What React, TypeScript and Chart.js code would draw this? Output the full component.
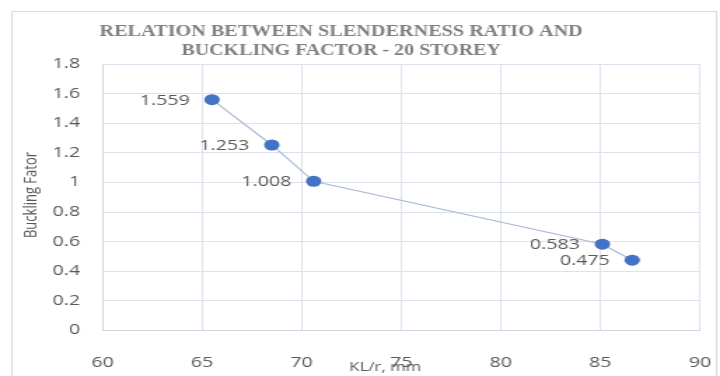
import React, { useEffect, useRef } from "react";
import { Chart, registerables } from "chart.js";

Chart.register(...registerables);

// Slenderness ratio (KL/r) against buckling factor, 20-storey frame
const slendernessRatio = [65.5, 68.5, 70.6, 85.1, 86.6];
const bucklingFactor = [1.559, 1.253, 1.008, 0.583, 0.475];
const xTickValues = [60, 65, 70, 75, 80, 85, 90];
const yTickValues = [0, 0.2, 0.4, 0.6, 0.8, 1, 1.2, 1.4, 1.6, 1.8];
const titleLines = [
  "RELATION BETWEEN SLENDERNESS RATIO AND",
  "BUCKLING FACTOR - 20 STOREY",
];
const xAxisTitle = "KL/r, mm";
const yAxisTitle = "Buckling Fator";

// The chart is laid out on a narrower canvas and widened with CSS.
const LOGICAL_W = 514;
const H = 376;
const STRETCH = 720 / LOGICAL_W;

const LABEL_FONT = '"Open Sans", "Liberation Sans", sans-serif';
const TEXT_GREY = "#595959";

const framePlugin = {
  id: "frame",
  beforeDraw(chart: any) {
    const ctx = chart.ctx;
    ctx.save();
    ctx.fillStyle = "#ffffff";
    ctx.fillRect(0, 0, chart.width, chart.height);
    ctx.strokeStyle = "#d9d9d9";
    ctx.lineWidth = 1;
    ctx.strokeRect(8.6, 11.5, 503, H + 20);
    ctx.restore();
  },
};

const titlePlugin = {
  id: "twoLineTitle",
  afterDraw(chart: any) {
    const ctx = chart.ctx;
    const widths = [345, 228];
    const ys = [32, 50.5];
    ctx.save();
    ctx.font = 'bold 16px "Liberation Serif", "Times New Roman", serif';
    ctx.fillStyle = "#808080";
    ctx.textAlign = "center";
    ctx.textBaseline = "middle";
    titleLines.forEach((line, i) => {
      const natural = ctx.measureText(line).width;
      const sx = widths[i] / natural;
      ctx.save();
      ctx.translate(243.5, ys[i]);
      ctx.scale(sx, 1);
      ctx.fillText(line, 0, 0);
      ctx.restore();
    });
    ctx.restore();
  },
};

const axisTitlesPlugin = {
  id: "axisTitles",
  afterDraw(chart: any) {
    const ctx = chart.ctx;
    ctx.save();
    ctx.fillStyle = TEXT_GREY;
    ctx.textAlign = "center";
    ctx.textBaseline = "middle";
    ctx.font = `12px ${LABEL_FONT}`;
    ctx.fillText(xAxisTitle, 275, 368);
    ctx.translate(22, 195);
    ctx.rotate(-Math.PI / 2);
    ctx.font = `13px ${LABEL_FONT}`;
    ctx.fillText(yAxisTitle, 0, 0);
    ctx.restore();
  },
};

const valueLabelPlugin = {
  id: "valueLabels",
  afterDatasetsDraw(chart: any) {
    const ctx = chart.ctx;
    const meta = chart.getDatasetMeta(0);
    ctx.save();
    ctx.font = `14px ${LABEL_FONT}`;
    ctx.fillStyle = TEXT_GREY;
    ctx.textAlign = "right";
    ctx.textBaseline = "middle";
    meta.data.forEach((pt: any, i: number) => {
      ctx.fillText(bucklingFactor[i].toFixed(3), pt.x - 16, pt.y + 1);
    });
    ctx.restore();
  },
};

export default function App() {
  const canvasRef = useRef<HTMLCanvasElement | null>(null);

  useEffect(() => {
    if (!canvasRef.current) return;
    const chart = new Chart(canvasRef.current, {
      type: "scatter",
      data: {
        datasets: [
          {
            data: slendernessRatio.map((x, i) => ({ x, y: bucklingFactor[i] })),
            showLine: true,
            borderColor: "#a9b9d8",
            borderWidth: 1.2,
            backgroundColor: "#4472C4",
            pointBackgroundColor: "#4472C4",
            pointBorderColor: "#4472C4",
            pointBorderWidth: 0,
            pointRadius: 5.5,
          },
        ],
      },
      options: {
        animation: false,
        responsive: true,
        maintainAspectRatio: false,
        layout: { padding: { left: 0, right: 14.3, top: 64, bottom: 0 } },
        plugins: {
          legend: { display: false },
          title: { display: false },
          tooltip: { enabled: false },
        },
        scales: {
          x: {
            type: "linear",
            min: 60,
            max: 90,
            afterFit(scale: any) {
              scale.height = H - 330.5;
              scale.paddingLeft = 0;
              scale.paddingRight = 0;
            },
            afterBuildTicks(scale: any) {
              scale.ticks = xTickValues.map((v) => ({ value: v }));
            },
            ticks: {
              padding: 24,
              color: TEXT_GREY,
              font: { family: LABEL_FONT, size: 14 },
              maxRotation: 0,
            },
            grid: { color: "#dde2ec", drawTicks: false, lineWidth: 1 },
            border: { color: "#d0d6e2" },
          },
          y: {
            type: "linear",
            min: 0,
            max: 1.8,
            afterFit(scale: any) {
              scale.width = 73.2;
              scale.paddingTop = 0;
              scale.paddingBottom = 0;
            },
            afterBuildTicks(scale: any) {
              scale.ticks = yTickValues.map((v) => ({ value: v }));
            },
            ticks: {
              padding: 16,
              color: TEXT_GREY,
              font: { family: LABEL_FONT, size: 14 },
              callback: (v: any) => String(Number(Number(v).toFixed(1))),
            },
            grid: { color: "#dde2ec", drawTicks: false, lineWidth: 1 },
            border: { color: "#d0d6e2" },
          },
        },
      },
      plugins: [framePlugin, titlePlugin, axisTitlesPlugin, valueLabelPlugin],
    } as any);
    return () => chart.destroy();
  }, []);

  return (
    <div
      style={{
        position: "absolute",
        left: 0,
        top: 0,
        width: LOGICAL_W,
        height: H,
        transform: `scaleX(${STRETCH})`,
        transformOrigin: "0 0",
      }}
    >
      <canvas ref={canvasRef} />
    </div>
  );
}
